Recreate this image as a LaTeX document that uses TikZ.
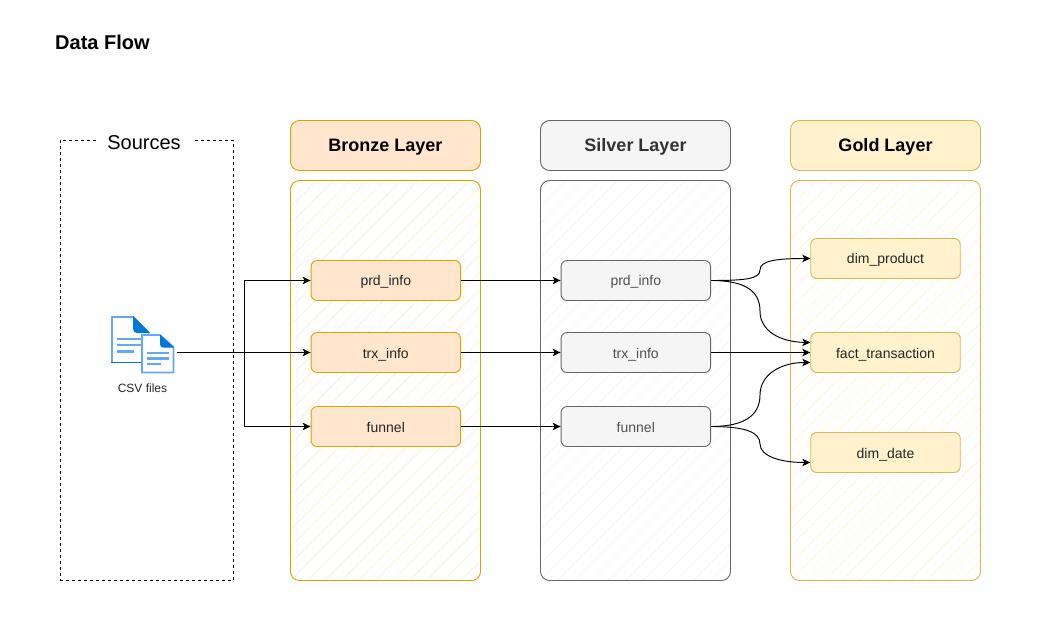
\documentclass[tikz,border=0pt]{standalone}
\usepackage{fontspec}
\setmainfont{Liberation Sans}
\usetikzlibrary{arrows.meta}
\definecolor{bronzeFill}{HTML}{FFE6CC}
\definecolor{bronzeLine}{HTML}{E0A000}
\definecolor{silverFill}{HTML}{F5F5F5}
\definecolor{silverLine}{HTML}{666666}
\definecolor{silverText}{HTML}{333333}
\definecolor{silverSoft}{HTML}{505050}
\definecolor{goldFill}{HTML}{FFF2CC}
\definecolor{goldLine}{HTML}{D6B656}
\definecolor{iconDark}{HTML}{0078D7}
\definecolor{iconLight}{HTML}{62A8F5}
\tikzset{
  x=1pt,y=-1pt,
  hatched/.style={path picture={
    \foreach \k in {-40,...,60}
      \draw[#1,line width=0.8pt] (\k*17,-320) -- ++(-640,640);
  }},
  basebox/.style={rounded corners=#1,line width=0.9pt,anchor=center,inner sep=0pt,align=center},
  header/.style={basebox=9pt,minimum width=190pt,minimum height=50pt,text height=14pt,text depth=2pt,font=\fontsize{18}{20}\selectfont\bfseries},
  panel/.style={basebox=9pt,minimum width=190pt,minimum height=400pt},
  item/.style={basebox=6pt,minimum width=149.5pt,minimum height=40pt,text height=13pt,text depth=2pt,font=\fontsize{14}{16}\selectfont},
  bronzeH/.style={header,draw=bronzeLine,fill=bronzeFill,text=black},
  bronzeP/.style={panel,draw=bronzeLine,hatched=bronzeFill!65},
  bronzeI/.style={item,draw=bronzeLine,fill=bronzeFill,text=black!85},
  silverH/.style={header,draw=silverLine,fill=silverFill,text=silverText},
  silverP/.style={panel,draw=silverLine,hatched=silverFill},
  silverI/.style={item,draw=silverLine,fill=silverFill,text=silverSoft},
  goldH/.style={header,draw=goldLine,fill=goldFill,text=black},
  goldP/.style={panel,draw=goldLine,hatched=goldFill!70},
  goldI/.style={item,draw=goldLine,fill=goldFill,text=black!85},
  flow/.style={draw=black,line width=0.95pt,-{Stealth[length=8pt,width=7.5pt,inset=2pt]}},
  docline/.style={draw=iconLight,line width=2.6pt},
}
\begin{document}
\begin{tikzpicture}
\useasboundingbox (0,0) rectangle (1060,644);
\fill[white] (0,0) rectangle (1060,644);

\node[anchor=west,inner sep=0pt,font=\fontsize{20}{22}\selectfont\bfseries] (title) at (55,42) {Data Flow};

% sources
\node[draw=black,dash pattern=on 3pt off 3pt,line width=0.9pt,minimum width=173pt,minimum height=440pt,inner sep=0pt] (srcbox) at (146.5,360.5) {};
\node[fill=white,inner sep=0pt,minimum width=95pt,minimum height=24pt,font=\fontsize{20}{22}\selectfont] (srclabel) at (144,143) {Sources};

% panels
\node[bronzeP] (bp) at (385.5,380.5) {};
\node[silverP] (sp) at (635.5,380.5) {};
\node[goldP] (gp) at (885.5,380.5) {};
\node[bronzeH] (bh) at (385.5,145.5) {Bronze Layer};
\node[silverH] (sh) at (635.5,145.5) {Silver Layer};
\node[goldH] (gh) at (885.5,145.5) {Gold Layer};

% items
\node[bronzeI] (b1) at (385.8,280.5) {prd\_info};
\node[bronzeI] (b2) at (385.8,352.5) {trx\_info};
\node[bronzeI] (b3) at (385.8,426.5) {funnel};
\node[silverI] (s1) at (635.8,280.5) {prd\_info};
\node[silverI] (s2) at (635.8,352.5) {trx\_info};
\node[silverI] (s3) at (635.8,426.5) {funnel};
\node[goldI] (g1) at (885.5,258.5) {dim\_product};
\node[goldI] (g2) at (885.5,352.5) {fact\_transaction};
\node[goldI] (g3) at (885.5,452.5) {dim\_date};

% icon
\begin{scope}[line join=miter]
  \fill[white] (112,317) -- (133,317) -- (149,333) -- (149,362.5) -- (112,362.5) -- cycle;
  \draw[draw=iconLight,line width=1.8pt] (112,362) -- (112,317) -- (133,317) -- (149,333);
  \draw[draw=iconDark,line width=1.8pt] (111,362.5) -- (150,362.5);
  \fill[iconDark] (133,316) -- (150,333) -- (137,333) .. controls (134,333) and (133,331) .. (133,328) -- cycle;
  \draw[docline] (117,339) -- (142,339);
  \draw[docline] (117,345) -- (142,345);
  \draw[docline] (117,351.5) -- (133.5,351.5);
  \filldraw[draw=iconLight,fill=white,line width=1.6pt] (142,335) -- (160,335) -- (173.5,347) -- (173.5,372.5) -- (142,372.5) -- cycle;
  \fill[iconDark] (160,334.5) -- (174,347.5) -- (163,347.5) .. controls (161,347.5) and (160,346) .. (160,344) -- cycle;
  \draw[docline] (146.5,353) -- (168.5,353);
  \draw[docline] (146.5,358.5) -- (168.5,358.5);
  \draw[docline] (146.5,364) -- (160.5,364);
\end{scope}
\node[inner sep=0pt,font=\fontsize{12}{14}\selectfont,text=black!85] (csv) at (142.5,388.5) {CSV files};

% connectors
\coordinate (src) at (177,352.5);
\coordinate (bus) at (244.5,352.5);
\draw[flow] (src) -- (b2);
\draw[flow] (bus) |- (b1);
\draw[flow] (bus) |- (b3);
\draw[flow] (b1) -- (s1);
\draw[flow] (b2) -- (s2);
\draw[flow] (b3) -- (s3);
\draw[flow] (s2) -- (g2);
\draw[flow] (s1.east) .. controls (745,280.5) and (760,279) .. (760,270) .. controls (760,261) and (775,258.5) .. (g1.west);
\draw[flow] (s1.east) .. controls (745,280.5) and (760,291) .. (760,311) .. controls (760,331) and (780,342) .. ([yshift=10pt]g2.west);
\draw[flow] (s3.east) .. controls (745,426.5) and (760,415) .. (760,395) .. controls (760,375) and (780,362.5) .. ([yshift=-10pt]g2.west);
\draw[flow] (s3.east) .. controls (745,426.5) and (760,432) .. (760,444) .. controls (760,456) and (780,462.5) .. ([yshift=-10pt]g3.west);
\end{tikzpicture}
\end{document}
